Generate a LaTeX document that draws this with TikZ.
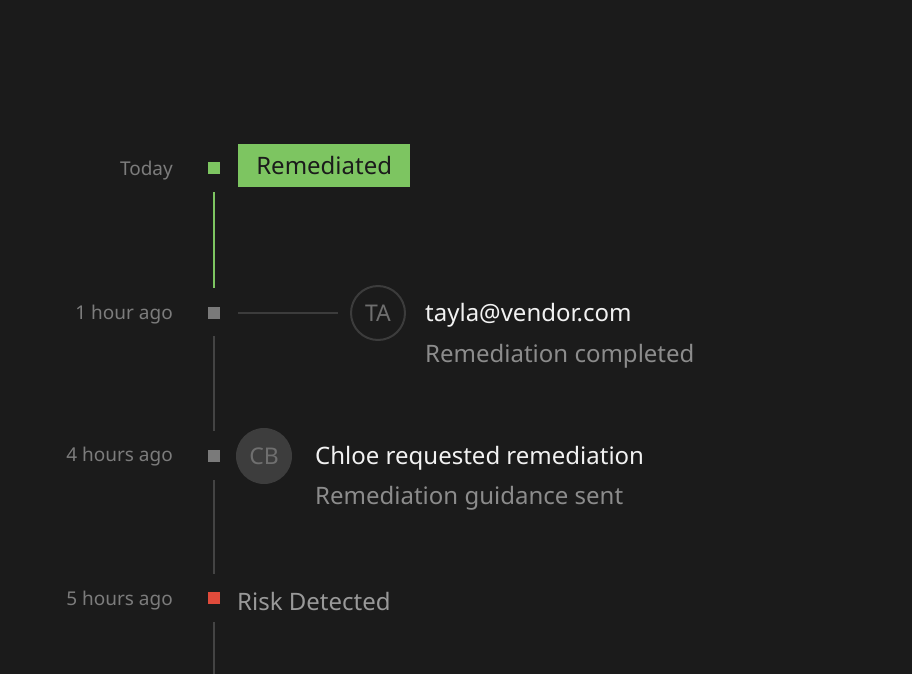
\documentclass[tikz,border=0pt]{standalone}
\usepackage{fontspec}
\setmainfont{Noto Sans}
\definecolor{bg}{HTML}{1B1B1B}
\definecolor{grn}{HTML}{7DC561}
\definecolor{dot}{HTML}{7A7A7A}
\definecolor{lbl}{HTML}{7C7C7C}
\definecolor{rail}{HTML}{444444}
\definecolor{ring}{HTML}{3C3C3C}
\definecolor{cbfill}{HTML}{3D3D3D}
\definecolor{ini}{HTML}{6F6F6F}
\definecolor{wht}{HTML}{F2F2F2}
\definecolor{sub}{HTML}{8C8C8C}
\definecolor{riskc}{HTML}{999999}
\definecolor{red}{HTML}{E04B3B}
\tikzset{
  timelbl/.style={anchor=east, text=lbl, font=\fontsize{19}{22}\selectfont, inner sep=0pt},
  marker/.style={minimum size=12pt, inner sep=0pt, fill=#1},
  railline/.style={draw=rail, line width=2pt},
  title/.style={anchor=west, text=wht, font=\fontsize{24}{28}\selectfont, inner sep=0pt},
  subtitle/.style={anchor=west, text=sub, font=\fontsize{24}{28}\selectfont, inner sep=0pt},
  avatar/.style={circle, minimum size=54pt, inner sep=0pt, text=ini, font=\fontsize{23}{27}\selectfont},
}
\begin{document}
\begin{tikzpicture}[x=1pt,y=-1pt]
\fill[bg] (0,0) rectangle (912,674);
\useasboundingbox (0,0) rectangle (912,674);
% Today
\node[timelbl] (t0) at (173,171) {Today};
\node[marker=grn] (m0) at (214,168) {};
\node[fill=grn, minimum width=172pt, minimum height=43pt, inner sep=0pt, anchor=west, text=bg, font=\fontsize{24}{28}\selectfont] (rem) at (238,165.5) {\raisebox{-1.5pt}{Remediated}};
\coordinate (g0) at (214,192);
\coordinate (g1) at (214,288);
\draw[grn, line width=2pt] (g0) -- (g1);
% 1 hour ago
\node[timelbl] (t1) at (173,315) {1 hour ago};
\node[marker=dot] (m1) at (214,312.5) {};
\coordinate (h0) at (238,313);
\coordinate (h1) at (338,313);
\node[avatar, draw=ring, line width=2pt] (ta) at (378,313) {\raisebox{-1pt}{TA}};
\draw[draw=ring, line width=2pt] (h0) -- (h1);
\node[title] (tt) at (425,315) {tayla@vendor.com};
\node[subtitle] (ts) at (425,356) {Remediation completed};
\coordinate (r10) at (214,336);
\coordinate (r11) at (214,431);
\draw[railline] (r10) -- (r11);
% 4 hours ago
\node[timelbl] (t2) at (173,457) {4 hours ago};
\node[marker=dot] (m2) at (214,455.5) {};
\node[avatar, fill=cbfill, minimum size=56pt] (cb) at (264,456) {\raisebox{-1pt}{CB}};
\node[title] (ct) at (315,458) {Chloe requested remediation};
\node[subtitle] (cs) at (315,498) {Remediation guidance sent};
\coordinate (r20) at (214,480);
\coordinate (r21) at (214,574);
\draw[railline] (r20) -- (r21);
% 5 hours ago
\node[timelbl] (t3) at (173,601) {5 hours ago};
\node[marker=red] (m3) at (214,597.5) {};
\node[subtitle, text=riskc] (rd) at (237,601) {Risk Detected};
\coordinate (r30) at (214,622);
\coordinate (r31) at (214,674);
\draw[railline] (r30) -- (r31);
\end{tikzpicture}
\end{document}
